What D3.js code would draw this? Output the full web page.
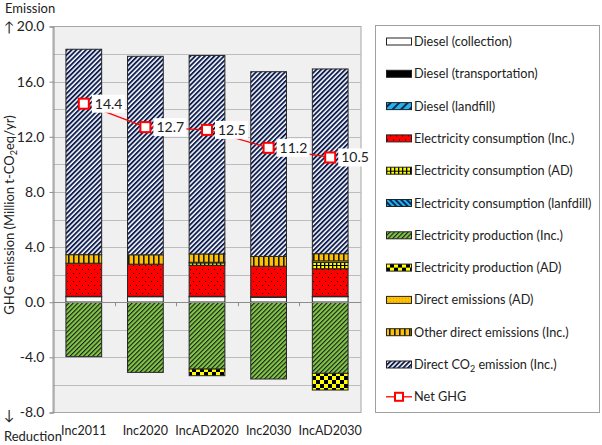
<!DOCTYPE html>
<html><head><meta charset="utf-8">
<script src="https://cdn.jsdelivr.net/npm/d3@7"></script>
<style>body{margin:0;background:#fff}svg{display:block;font-family:Lato,"Open Sans",sans-serif}</style>
</head><body><svg id="c" width="602" height="445"></svg>
<script>
// ---- data ----
const categories = ["Inc2011","Inc2020","IncAD2020","Inc2030","IncAD2030"];
const seriesNames = ["Diesel (collection)","Diesel (transportation)","Diesel (landfill)","Electricity consumption (Inc.)","Electricity consumption (AD)","Electricity consumption (lanfdill)","Electricity production (Inc.)","Electricity production (AD)","Direct emissions (AD)","Other direct emissions (Inc.)","Direct CO2 emission (Inc.)"];
const dieselCollection   = [0.40, 0.40, 0.40, 0.36, 0.40];
const dieselTransport    = [0.03, 0.03, 0.03, 0.03, 0.03];
const dieselLandfill     = [0, 0, 0, 0, 0];
const elecConsInc        = [2.40, 2.33, 2.25, 2.22, 2.00];
const elecConsAD         = [0, 0, 0.17, 0, 0.45];
const elecConsLandfill   = [0, 0, 0, 0, 0];
const elecProdInc        = [-3.95, -5.09, -4.85, -5.57, -5.16];
const elecProdAD         = [0, 0, -0.48, 0, -1.21];
const directEmisAD       = [0, 0, 0.05, 0, 0.12];
const otherDirectInc     = [0.62, 0.68, 0.60, 0.71, 0.52];
const directCO2Inc       = [14.90, 14.40, 14.40, 13.40, 13.40];
const netGHG             = [14.4, 12.7, 12.5, 11.2, 10.5];
const yTicks = [-8, -4, 0, 4, 8, 12, 16, 20];
const yGrid = [-6, -4, -2, 2, 4, 6, 8, 10, 12, 14, 16, 18];

const seriesValues = [dieselCollection, dieselTransport, dieselLandfill, elecConsInc, elecConsAD, elecConsLandfill, elecProdInc, elecProdAD, directEmisAD, otherDirectInc, directCO2Inc];
const patternIds = ["pDieselCol","pDieselTr","pDieselLf","pElecInc","pElecAD","pElecLf","pProdInc","pProdAD","pDirAD","pOtherInc","pCO2"];

const svg = d3.select("#c");
const defs = svg.append("defs");
function pat(id, w, h, bg, rot) {
  const p = defs.append("pattern").attr("id", id).attr("patternUnits", "userSpaceOnUse").attr("width", w).attr("height", h);
  if (rot) p.attr("patternTransform", "rotate(" + rot + ")");
  p.append("rect").attr("width", w).attr("height", h).attr("fill", bg);
  return p;
}
pat("pDieselCol", 4, 4, "#ffffff");
pat("pDieselTr", 4, 4, "#000000");
pat("pDieselLf", 6, 6, "#1fb4ec", 45).append("rect").attr("width", 2).attr("height", 6).attr("fill", "#0b2a5a");
{ const p = pat("pElecInc", 6, 8, "#ff0000");
  p.append("rect").attr("x", 1).attr("y", 1).attr("width", 1).attr("height", 1).attr("fill", "#000");
  p.append("rect").attr("x", 4).attr("y", 5).attr("width", 1).attr("height", 1).attr("fill", "#000"); }
{ const p = pat("pElecAD", 4, 5, "#ffff00");
  p.append("rect").attr("x", 0).attr("y", 0).attr("width", 1.3).attr("height", 5).attr("fill", "#000");
  p.append("rect").attr("x", 0).attr("y", 0).attr("width", 4).attr("height", 1).attr("fill", "#000"); }
pat("pElecLf", 4, 4, "#1fb4ec", -45).append("rect").attr("width", 2).attr("height", 4).attr("fill", "#0b2a5a");
pat("pProdInc", 3.2, 4, "#80c846", 45).append("rect").attr("width", 1.1).attr("height", 4).attr("fill", "#1a1a1a");
{ const p = pat("pProdAD", 8, 8, "#ffff00");
  p.append("rect").attr("x", 0).attr("y", 0).attr("width", 4).attr("height", 4).attr("fill", "#000");
  p.append("rect").attr("x", 4).attr("y", 4).attr("width", 4).attr("height", 4).attr("fill", "#000"); }
{ const p = pat("pDirAD", 3, 3, "#ffc000");
  p.append("rect").attr("x", 1).attr("y", 1).attr("width", 1).attr("height", 1).attr("fill", "#e8a000"); }
pat("pOtherInc", 5, 5, "#ffc000").append("rect").attr("x", 3).attr("width", 1.6).attr("height", 5).attr("fill", "#1a1a1a");
pat("pCO2", 3.4, 4, "#ffffff", 45).append("rect").attr("width", 1.9).attr("height", 4).attr("fill", "#0f1f52");

// ---- scales ----
const x = d3.scaleBand().domain(categories).range([53, 361]).paddingInner(0.42).paddingOuter(0.21);
const y = d3.scaleLinear().domain([-8, 20]).range([412.5, 26.5]);

// plot background
svg.append("rect").attr("x", 53).attr("y", y(20)).attr("width", 308).attr("height", y(-8) - y(20)).attr("fill", "#f0f0f0").attr("stroke", "#a6a6a6");
svg.append("g").selectAll("line").data(yGrid).join("line")
  .attr("x1", 53).attr("x2", 361).attr("y1", d => Math.round(y(d)) + 0.5).attr("y2", d => Math.round(y(d)) + 0.5)
  .attr("stroke", "#bdbdbd").attr("stroke-width", 1);

// y axis
const yAxis = svg.append("g").attr("transform", "translate(53.5,0)")
  .call(d3.axisLeft(y).tickValues(yTicks).tickFormat(d => d.toFixed(1)).tickSize(4).tickPadding(5));
yAxis.select(".domain").attr("stroke", "#8c8c8c");
yAxis.selectAll(".tick line").attr("stroke", "#8c8c8c");
yAxis.selectAll(".tick text").attr("font-family", "Lato, sans-serif").attr("font-size", 14).attr("fill", "#222");
svg.append("text").attr("x", 9).attr("y", y(20) + 5).attr("font-size", 14).attr("fill", "#222").attr("text-anchor", "middle").text("↑");
svg.append("text").attr("x", 9).attr("y", y(-8) + 7).attr("font-size", 14).attr("fill", "#222").attr("text-anchor", "middle").text("↓");
svg.append("text").attr("x", 5).attr("y", 13).attr("font-size", 13).attr("fill", "#222").text("Emission");
svg.append("text").attr("x", 4).attr("y", 441).attr("font-size", 13).attr("fill", "#222").text("Reduction");

// y title
const yt = svg.append("text").attr("transform", "translate(14,215) rotate(-90)").attr("text-anchor", "middle").attr("font-size", 13).attr("fill", "#222");
yt.append("tspan").text("GHG emission (Million t-CO");
yt.append("tspan").attr("font-size", 9).attr("dy", 3).text("2");
yt.append("tspan").attr("dy", -3).text("eq/yr)");

// ---- stacked bars ----
const rows = categories.map((c, i) => { const r = { cat: c }; seriesNames.forEach((s, j) => r[s] = seriesValues[j][i]); return r; });
const stacked = d3.stack().keys(seriesNames).offset(d3.stackOffsetDiverging)(rows);
stacked.forEach((layer, j) => {
  svg.append("g").selectAll("rect").data(layer.filter(d => Math.abs(d[1] - d[0]) > 0)).join("rect")
    .attr("x", d => x(d.data.cat)).attr("width", x.bandwidth())
    .attr("y", d => y(Math.max(d[0], d[1]))).attr("height", d => Math.abs(y(d[0]) - y(d[1])))
    .attr("fill", "url(#" + patternIds[j] + ")").attr("stroke", "#262626").attr("stroke-width", 1);
});

// zero line + category ticks
svg.append("line").attr("x1", 53).attr("x2", 361).attr("y1", Math.round(y(0)) + 0.5).attr("y2", Math.round(y(0)) + 0.5).attr("stroke", "#8c8c8c");
svg.append("g").selectAll("line").data(categories.slice(1)).join("line")
  .attr("x1", d => Math.round(x(d) - x.step() * x.paddingInner() / 2) + 0.5).attr("x2", d => Math.round(x(d) - x.step() * x.paddingInner() / 2) + 0.5)
  .attr("y1", y(0)).attr("y2", y(0) + 4).attr("stroke", "#8c8c8c");

// x labels
svg.append("g").selectAll("text").data(categories).join("text")
  .attr("x", d => x(d) + x.bandwidth() / 2).attr("y", 435).attr("text-anchor", "middle").attr("font-size", 12.5).attr("fill", "#222").text(d => d);

// ---- net GHG line ----
const cx = i => x(categories[i]) + x.bandwidth() / 2;
svg.append("path").datum(netGHG).attr("fill", "none").attr("stroke", "#ff0000").attr("stroke-width", 1.3)
  .attr("d", d3.line().x((d, i) => cx(i)).y(d => y(d)));
const lab = svg.append("g").selectAll("g").data(netGHG).join("g").attr("transform", (d, i) => `translate(${cx(i)},${y(d)})`);
lab.append("rect").attr("x", 8).attr("y", -9).attr("width", 33).attr("height", 18).attr("fill", "#fff");
lab.append("text").attr("x", 11).attr("y", 5).attr("font-size", 14).attr("fill", "#222").text(d => d.toFixed(1));
lab.append("rect").attr("x", -5).attr("y", -5).attr("width", 10).attr("height", 10).attr("fill", "#fff").attr("stroke", "#ff0000").attr("stroke-width", 2);

// ---- legend ----
svg.append("rect").attr("x", 375.5).attr("y", 25.5).attr("width", 224).attr("height", 387).attr("fill", "#fff").attr("stroke", "#a0a0a0");
const legendItems = seriesNames.concat(["Net GHG"]);
const lg = svg.append("g").selectAll("g").data(legendItems).join("g")
  .attr("transform", (d, i) => `translate(386,${41.5 + i * 32.3})`);
lg.each(function (d, i) {
  const g = d3.select(this);
  if (i < seriesNames.length) {
    g.append("rect").attr("x", 0.5).attr("y", -3.5).attr("width", 25).attr("height", 7).attr("fill", "url(#" + patternIds[i] + ")").attr("stroke", "#222");
  } else {
    g.append("line").attr("x1", 0).attr("x2", 26).attr("y1", 0).attr("y2", 0).attr("stroke", "#ff0000").attr("stroke-width", 1.3);
    g.append("rect").attr("x", 9).attr("y", -4).attr("width", 8).attr("height", 8).attr("fill", "#fff").attr("stroke", "#ff0000").attr("stroke-width", 2);
  }
  const t = g.append("text").attr("x", 28).attr("y", 4.5).attr("font-size", 12.7).attr("fill", "#222");
  if (d === "Direct CO2 emission (Inc.)") {
    t.append("tspan").text("Direct CO");
    t.append("tspan").attr("font-size", 9).attr("dy", 3).text("2");
    t.append("tspan").attr("dy", -3).text(" emission (Inc.)");
  } else t.text(d);
});
</script></body></html>
